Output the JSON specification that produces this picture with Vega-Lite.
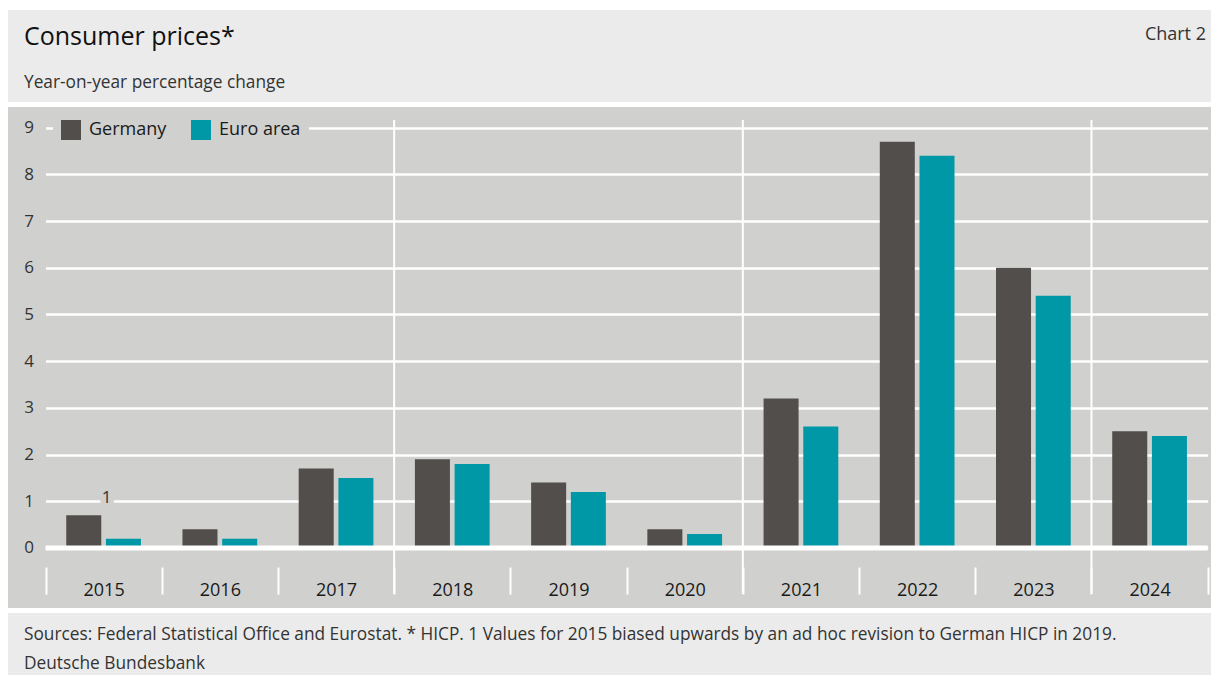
{
  "$schema": "https://vega.github.io/schema/vega-lite/v6.json",
  "background": "white",
  "padding": {"left": 8, "top": 10, "right": 0, "bottom": 0},
  "spacing": 5,
  "config": {
    "font": "Open Sans",
    "view": {"stroke": null}
  },
  "title": {
    "text": "Chart 2",
    "anchor": "end",
    "frame": "bounds",
    "orient": "top",
    "fontSize": 18,
    "fontWeight": "normal",
    "color": "#333333",
    "offset": -33.8,
    "dx": -5
  },
  "datasets": {
    "prices": [
      {"year": "2015", "series": "Germany", "value": 0.7},
      {"year": "2015", "series": "Euro area", "value": 0.2},
      {"year": "2016", "series": "Germany", "value": 0.4},
      {"year": "2016", "series": "Euro area", "value": 0.2},
      {"year": "2017", "series": "Germany", "value": 1.7},
      {"year": "2017", "series": "Euro area", "value": 1.5},
      {"year": "2018", "series": "Germany", "value": 1.9},
      {"year": "2018", "series": "Euro area", "value": 1.8},
      {"year": "2019", "series": "Germany", "value": 1.4},
      {"year": "2019", "series": "Euro area", "value": 1.2},
      {"year": "2020", "series": "Germany", "value": 0.4},
      {"year": "2020", "series": "Euro area", "value": 0.3},
      {"year": "2021", "series": "Germany", "value": 3.2},
      {"year": "2021", "series": "Euro area", "value": 2.6},
      {"year": "2022", "series": "Germany", "value": 8.7},
      {"year": "2022", "series": "Euro area", "value": 8.4},
      {"year": "2023", "series": "Germany", "value": 6.0},
      {"year": "2023", "series": "Euro area", "value": 5.4},
      {"year": "2024", "series": "Germany", "value": 2.5},
      {"year": "2024", "series": "Euro area", "value": 2.4}
    ]
  },
  "resolve": {"scale": {"color": "independent"}, "legend": {"color": "independent"}},
  "vconcat": [
    {
      "width": 1203,
      "height": 92,
      "view": {"fill": "#ebebeb", "stroke": null},
      "data": {"values": []},
      "mark": {"type": "rule"},
      "encoding": {},
      "title": {
        "text": "Consumer prices*",
        "subtitle": "Year-on-year percentage change",
        "anchor": "start",
        "frame": "group",
        "orient": "top",
        "offset": -81.6,
        "dx": 16,
        "fontSize": 25,
        "fontWeight": "normal",
        "color": "#111111",
        "subtitleFontSize": 17.3,
        "subtitleFontWeight": "normal",
        "subtitleColor": "#333333",
        "subtitlePadding": 24.3
      }
    },
    {
      "width": 1203,
      "height": 501,
      "view": {"fill": "#d0d0ce", "stroke": null},
      "data": {"name": "prices"},
      "layer": [
        {
          "mark": {"type": "bar"},
          "encoding": {
            "x": {
              "field": "year",
              "type": "ordinal",
              "title": null,
              "scale": {"range": [37.5, 1199.7], "paddingInner": 0, "paddingOuter": 0},
              "axis": {
                "orient": "bottom",
                "offset": -41,
                "domain": false,
                "ticks": true,
                "tickBand": "extent",
                "tickColor": "white",
                "tickWidth": 2,
                "tickSize": 27,
                "labelPadding": 1,
                "labelBaseline": "alphabetic",
                "labelAngle": 0,
                "labelFontSize": 18,
                "labelColor": "#1a1a1a",
                "grid": false,
                "title": null
              }
            },
            "xOffset": {
              "field": "series",
              "type": "nominal",
              "sort": ["Germany", "Euro area"],
              "scale": {"paddingInner": 0.118, "paddingOuter": 0.5226}
            },
            "y": {
              "field": "value",
              "type": "quantitative",
              "title": null,
              "scale": {"domain": [-1.285, 9.443], "nice": false, "zero": false},
              "axis": {
                "values": [0, 1, 2, 3, 4, 5, 6, 7, 8, 9],
                "orient": "left",
                "grid": true,
                "gridColor": "white",
                "gridWidth": 2.5,
                "gridOpacity": 1,
                "domain": false,
                "ticks": false,
                "tickSize": 0,
                "labelPadding": -25.5,
                "labelAlign": "right",
                "labelBaseline": "middle",
                "labelFontSize": 17,
                "labelColor": "#333333",
                "title": null
              }
            },
            "color": {
              "field": "series",
              "type": "nominal",
              "sort": ["Germany", "Euro area"],
              "scale": {"domain": ["Germany", "Euro area"], "range": ["#524e4b", "#0097a7"]},
              "legend": {
                "orient": "none",
                "legendX": 45,
                "legendY": 5,
                "direction": "horizontal",
                "title": null,
                "fillColor": "#d0d0ce",
                "padding": 8,
                "symbolType": "square",
                "symbolSize": 400,
                "symbolStrokeWidth": 0,
                "symbolOpacity": 1,
                "labelFontSize": 18,
                "labelColor": "#1a1a1a",
                "labelOffset": 8,
                "columnPadding": 24
              }
            }
          }
        },
        {
          "transform": [
            {"filter": "datum.series === 'Germany' && (datum.year === '2018' || datum.year === '2021' || datum.year === '2024')"}
          ],
          "mark": {"type": "rule", "color": "white", "strokeWidth": 2},
          "encoding": {
            "x": {"field": "year", "type": "ordinal", "bandPosition": 0, "title": null},
            "y": {"datum": -0.985, "title": null},
            "y2": {"datum": 9.165}
          }
        },
        {
          "transform": [
            {"filter": "datum.series === 'Germany' && datum.year === '2015'"}
          ],
          "mark": {"type": "rule", "color": "white", "strokeWidth": 5},
          "encoding": {
            "x": {"datum": "2015", "type": "ordinal", "bandPosition": 0, "title": null},
            "x2": {"datum": "2024", "bandPosition": 1},
            "y": {"datum": 0, "title": null}
          }
        },
        {
          "transform": [
            {"filter": "datum.series === 'Germany' && datum.year === '2015'"}
          ],
          "mark": {"type": "text", "fontSize": 17, "color": "#d0d0ce", "stroke": "#d0d0ce", "strokeWidth": 12, "baseline": "middle", "dx": 3},
          "encoding": {
            "x": {"field": "year", "type": "ordinal", "title": null},
            "y": {"datum": 1.062, "title": null},
            "text": {"value": "1"}
          }
        },
        {
          "transform": [
            {"filter": "datum.series === 'Germany' && datum.year === '2015'"}
          ],
          "mark": {"type": "text", "fontSize": 17, "color": "#333333", "baseline": "middle", "dx": 3},
          "encoding": {
            "x": {"field": "year", "type": "ordinal", "title": null},
            "y": {"datum": 1.062, "title": null},
            "text": {"value": "1"}
          }
        }
      ]
    },
    {
      "width": 1203,
      "height": 62,
      "view": {"fill": "#ebebeb", "stroke": null},
      "data": {"values": []},
      "mark": {"type": "rule"},
      "encoding": {},
      "title": {
        "text": "Sources: Federal Statistical Office and Eurostat. * HICP. 1 Values for 2015 biased upwards by an ad hoc revision to German HICP in 2019.",
        "subtitle": "Deutsche Bundesbank",
        "anchor": "start",
        "frame": "group",
        "orient": "top",
        "offset": -59.6,
        "dx": 16,
        "fontSize": 17.3,
        "fontWeight": "normal",
        "color": "#333333",
        "subtitleFontSize": 17.3,
        "subtitleColor": "#333333",
        "subtitlePadding": 11.7
      }
    }
  ]
}
